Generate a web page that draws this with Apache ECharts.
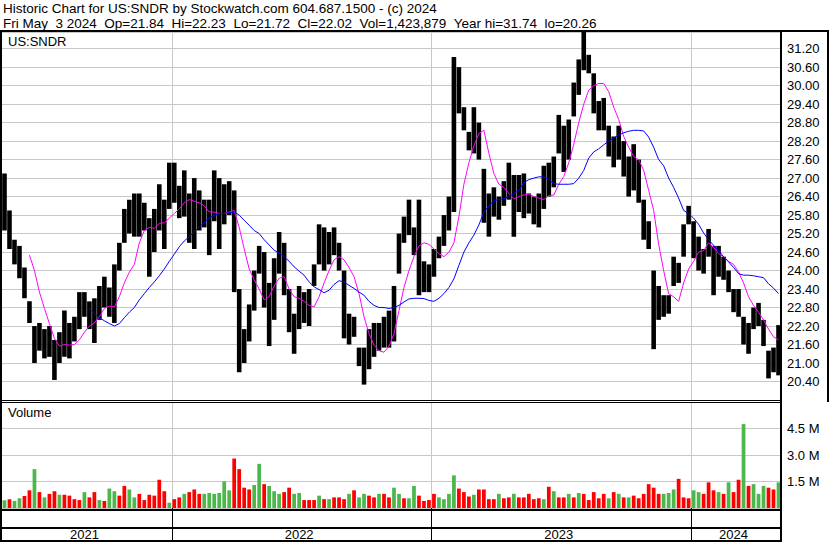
<!DOCTYPE html>
<html><head><meta charset="utf-8">
<script src="https://cdn.jsdelivr.net/npm/echarts@6/dist/echarts.min.js"></script>
<style>html,body{margin:0;padding:0;background:#fff}#c{width:830px;height:543px}</style>
</head><body><div id="c"></div>
<script>
// Weekly buckets (week starting Monday)
const weekDates = [
'2021-05-10','2021-05-17','2021-05-24','2021-05-31','2021-06-07','2021-06-14','2021-06-21','2021-06-28','2021-07-05','2021-07-12',
'2021-07-19','2021-07-26','2021-08-02','2021-08-09','2021-08-16','2021-08-23','2021-08-30','2021-09-06','2021-09-13','2021-09-20',
'2021-09-27','2021-10-04','2021-10-11','2021-10-18','2021-10-25','2021-11-01','2021-11-08','2021-11-15','2021-11-22','2021-11-29',
'2021-12-06','2021-12-13','2021-12-20','2021-12-27',
'2022-01-03','2022-01-10','2022-01-17','2022-01-24','2022-01-31','2022-02-07','2022-02-14','2022-02-21','2022-02-28','2022-03-07',
'2022-03-14','2022-03-21','2022-03-28','2022-04-04','2022-04-11','2022-04-18','2022-04-25','2022-05-02','2022-05-09','2022-05-16',
'2022-05-23','2022-05-30','2022-06-06','2022-06-13','2022-06-20','2022-06-27','2022-07-04','2022-07-11','2022-07-18','2022-07-25',
'2022-08-01','2022-08-08','2022-08-15','2022-08-22','2022-08-29','2022-09-05','2022-09-12','2022-09-19','2022-09-26','2022-10-03',
'2022-10-10','2022-10-17','2022-10-24','2022-10-31','2022-11-07','2022-11-14','2022-11-21','2022-11-28','2022-12-05','2022-12-12',
'2022-12-19','2022-12-26',
'2023-01-02','2023-01-09','2023-01-16','2023-01-23','2023-01-30','2023-02-06','2023-02-13','2023-02-20','2023-02-27','2023-03-06',
'2023-03-13','2023-03-20','2023-03-27','2023-04-03','2023-04-10','2023-04-17','2023-04-24','2023-05-01','2023-05-08','2023-05-15',
'2023-05-22','2023-05-29','2023-06-05','2023-06-12','2023-06-19','2023-06-26','2023-07-03','2023-07-10','2023-07-17','2023-07-24',
'2023-07-31','2023-08-07','2023-08-14','2023-08-21','2023-08-28','2023-09-04','2023-09-11','2023-09-18','2023-09-25','2023-10-02',
'2023-10-09','2023-10-16','2023-10-23','2023-10-30','2023-11-06','2023-11-13','2023-11-20','2023-11-27','2023-12-04','2023-12-11',
'2023-12-18','2023-12-25',
'2024-01-01','2024-01-08','2024-01-15','2024-01-22','2024-01-29','2024-02-05','2024-02-12','2024-02-19','2024-02-26','2024-03-04',
'2024-03-11','2024-03-18','2024-03-25','2024-04-01','2024-04-08','2024-04-15','2024-04-22','2024-04-29'];

const weekHigh = [
27.15,25.95,25.0,24.8,24.1,23.0,22.2,22.3,22.1,22.2,
21.75,22.0,22.7,22.3,22.5,23.3,23.3,23.0,23.1,23.5,
23.8,23.45,24.2,24.9,26.0,26.3,26.5,26.5,26.2,25.7,
26.0,26.8,26.3,27.5,27.5,26.75,27.25,26.5,27.0,26.6,
26.3,26.3,27.25,27.0,26.8,26.9,26.6,23.4,22.1,22.9,
24.0,24.8,24.6,23.6,24.4,25.25,24.9,23.4,22.6,23.5,
23.3,23.4,24.2,25.5,25.4,25.25,25.4,24.9,24.0,22.6,
22.5,21.5,21.5,22.1,22.3,22.3,22.5,22.7,23.5,25.2,
25.75,26.3,25.4,26.3,24.3,24.2,24.7,25.1,25.8,26.4,
30.93,30.6,29.3,28.5,29.3,28.8,27.3,26.5,26.7,26.4,
26.9,27.5,27.1,27.1,27.15,26.5,26.4,26.5,27.4,27.5,
27.7,29.05,28.7,28.9,30.1,30.85,31.74,31.0,30.4,29.5,
29.6,28.7,28.35,28.7,28.2,27.7,28.1,27.6,26.3,25.6,
24.0,23.5,23.2,23.2,24.45,24.25,25.5,26.1,25.6,25.1,
24.7,25.35,24.8,24.8,24.45,24.0,23.4,23.4,22.5,22.3,
22.8,22.95,22.4,21.4,21.5,22.23];

const weekLow = [
25.3,24.7,24.2,23.75,23.1,22.3,21.0,21.4,21.15,21.2,
20.45,21.0,21.2,21.15,21.7,22.1,22.5,22.1,21.65,22.4,
22.8,22.5,22.3,24.0,24.9,25.2,25.1,25.1,25.3,23.8,
24.6,25.3,24.7,26.0,26.2,25.7,25.75,24.9,24.7,25.3,
25.4,24.5,25.6,24.7,25.5,25.8,23.3,20.7,21.0,21.7,
22.7,23.9,22.8,21.55,22.4,23.9,23.2,22.0,21.3,22.1,
22.3,22.2,23.5,24.2,24.0,24.2,24.5,24.0,21.8,21.6,
21.85,20.9,20.3,20.8,21.2,21.4,21.5,21.5,21.7,23.9,
24.9,25.15,24.5,23.2,23.3,23.3,23.8,24.4,24.8,25.3,
25.9,29.1,28.55,27.9,27.8,27.6,25.55,25.1,25.75,25.65,
26.1,26.3,25.1,25.9,25.7,25.85,25.5,25.4,26.0,26.4,
26.7,27.8,27.2,27.6,29.0,29.7,30.5,30.4,29.1,28.55,
28.55,27.7,27.35,27.6,27.05,26.4,26.6,26.2,25.0,24.7,
21.45,22.4,22.5,22.6,23.5,23.6,24.45,25.5,24.4,24.0,
23.9,24.45,23.2,23.8,23.7,23.3,22.65,22.5,21.6,21.3,
22.1,22.2,21.55,20.5,20.7,20.6];

const maShort = [
null,null,null,null,null,24.5,24.0,23.3,22.77,22.28,
21.8,21.55,21.6,21.58,21.6,21.75,22.0,22.2,22.3,22.5,
22.77,22.85,22.82,23.15,23.6,23.95,24.2,24.9,25.3,25.4,
25.37,25.53,25.55,25.7,25.85,26.0,26.2,26.3,26.25,26.2,
26.1,25.9,25.9,25.85,25.85,25.9,25.95,25.4,24.7,24.05,
23.7,23.4,23.05,23.15,23.5,23.75,23.8,23.4,23.15,23.1,
23.0,22.87,22.82,23.15,23.6,24.0,24.35,24.45,24.35,24.1,
23.8,23.25,22.5,21.95,21.58,21.4,21.35,21.55,21.95,22.7,
23.45,24.0,24.45,24.8,24.9,24.85,24.7,24.55,24.45,24.6,
24.9,25.75,26.8,27.5,28.05,28.45,28.55,27.8,27.15,26.8,
26.7,26.5,26.33,26.4,26.45,26.48,26.4,26.35,26.3,26.43,
26.45,26.8,27.05,27.5,28.1,28.8,29.4,29.85,30.0,30.07,
30.07,29.8,29.3,28.9,28.35,28.0,27.7,27.6,27.25,26.6,
25.95,24.85,24.0,23.25,23.15,23.0,23.6,24.05,24.3,24.6,
24.65,24.9,24.75,24.55,24.45,24.3,24.2,23.95,23.6,23.15,
22.87,22.65,22.4,22.1,21.85,21.75];

const maLong = [
null,null,null,null,null,null,null,null,null,null,
null,null,null,null,null,null,null,22.77,22.6,22.47,
22.37,22.28,22.2,22.28,22.47,22.65,22.8,23.05,23.25,23.45,
23.63,23.83,24.05,24.3,24.53,24.77,24.96,25.1,25.25,25.42,
25.55,25.7,25.8,25.85,25.85,25.88,25.9,25.8,25.63,25.47,
25.3,25.2,25.0,24.83,24.66,24.57,24.45,24.3,24.12,23.98,
23.85,23.63,23.47,23.38,23.28,23.36,23.55,23.67,23.63,23.52,
23.42,23.3,23.2,23.0,22.87,22.8,22.8,22.77,22.8,22.87,
22.98,23.08,23.1,23.1,23.09,23.03,23.0,23.1,23.25,23.45,
23.73,24.17,24.6,24.9,25.15,25.48,25.9,26.1,26.27,26.3,
26.33,26.4,26.5,26.6,26.85,26.95,27.0,27.04,27.04,26.95,
26.82,26.8,26.8,26.8,26.82,27.0,27.25,27.65,27.85,27.95,
28.08,28.2,28.3,28.4,28.47,28.52,28.55,28.55,28.53,28.33,
28.0,27.6,27.4,27.0,26.7,26.35,25.95,25.85,25.7,25.5,
25.22,25.0,24.82,24.65,24.45,24.28,24.1,23.9,23.85,23.85,
23.83,23.8,23.77,23.57,23.43,23.25];

// volume in millions of shares (typical daily level in the week)
const volumeM = [
0.44,0.5,0.4,0.55,0.68,1.0,2.2,0.9,0.6,0.8,
0.95,0.75,0.75,0.7,0.5,0.45,0.9,0.6,0.9,0.45,
0.4,1.1,0.95,0.7,1.25,1.05,0.6,0.8,0.45,0.75,
0.7,1.6,0.95,0.3,0.5,0.6,0.8,0.9,1.05,0.8,
0.8,0.85,0.8,0.85,1.5,1.0,2.8,2.2,1.15,1.05,
1.3,2.5,1.35,1.25,0.95,0.8,0.9,1.15,0.8,0.85,
0.45,0.45,0.45,0.7,0.5,0.5,0.6,0.6,0.5,0.8,
1.0,0.6,0.8,0.7,0.6,0.8,0.8,0.6,1.15,0.8,
0.55,0.55,1.25,0.7,0.4,0.45,0.8,0.6,0.5,0.8,
1.85,1.1,0.9,0.65,0.75,1.05,1.05,0.5,0.5,0.8,
0.55,0.6,0.8,0.6,0.6,0.8,0.5,0.55,0.5,1.2,
0.95,0.6,0.6,0.8,0.6,0.85,0.8,0.45,0.9,0.55,
0.8,0.55,0.9,0.8,0.6,0.6,0.7,0.55,0.8,1.35,
1.15,0.8,0.8,0.85,1.05,1.65,0.6,0.55,1.0,0.9,
0.8,1.45,1.0,0.9,0.8,1.45,0.9,1.6,4.75,1.25,
1.35,0.8,1.25,1.15,1.05,1.45];

// 1 = up (green), 0 = down (red)
const volumeUp = [
1,0,1,1,0,0,1,0,1,0,
0,1,0,0,0,0,1,0,0,1,
0,1,1,0,0,1,1,0,0,0,
0,0,0,1,0,0,1,0,0,0,
1,1,1,1,1,1,0,0,0,0,
1,1,0,1,1,1,0,0,1,1,
0,0,0,1,0,1,0,0,0,1,
0,1,1,0,0,1,0,0,1,1,
0,1,1,0,0,0,0,1,1,1,
1,0,0,0,1,0,0,0,0,1,
0,0,1,0,0,0,0,0,1,0,
1,0,0,1,0,1,0,0,0,0,
0,1,0,1,0,1,0,0,0,0,
0,0,1,1,1,0,0,0,1,1,
0,0,0,1,0,1,0,0,1,0,
1,1,1,0,0,1];

const titleLine1 = 'Historic Chart for US:SNDR by Stockwatch.com 604.687.1500 - (c) 2024';
const titleLine2 = 'Fri May  3 2024  Op=21.84  Hi=22.23  Lo=21.72  Cl=22.02  Vol=1,423,879  Year hi=31.74  lo=20.26';
const symbolLabel = 'US:SNDR';
const volumeLabel = 'Volume';

const FONT = "'Liberation Sans', Arial, sans-serif";
const GRIDC = '#c8c8c8';

const yearOf = (i) => weekDates[i].slice(0, 4);
const isYearStart = (i) => i > 0 && yearOf(i) !== yearOf(i - 1);
// label placed at middle week of each year's range
const yearMid = new Set();
(function () {
  let s = 0;
  for (let i = 1; i <= weekDates.length; i++) {
    if (i === weekDates.length || yearOf(i) !== yearOf(s)) {
      yearMid.add(Math.floor((s + i - 1) / 2));
      s = i;
    }
  }
})();

const priceData = weekDates.map((d, i) => [i, weekHigh[i], weekLow[i]]);
const volData = volumeM.map((v, i) => ({
  value: v * 1e6,
  itemStyle: { color: volumeUp[i] ? '#4cb84c' : '#ff0000' }
}));

const chart = echarts.init(document.getElementById('c'), null, { renderer: 'svg' });
const txt = { fontFamily: FONT, fontSize: 13, color: '#000', fontWeight: 'normal' };
const ttl = { fontFamily: FONT, fontSize: 13.5, color: '#000', fontWeight: 'normal' };

const blk = (x, y, w, h) => ({ type: 'rect', shape: { x, y, width: w, height: h }, style: { fill: '#000' }, z: 100, silent: true });

chart.setOption({
  animation: false,
  backgroundColor: '#fff',
  title: [
    { text: titleLine1, left: 3, top: 1, padding: 0, textStyle: ttl },
    { text: titleLine2.replace(/ /g, '\u00a0'), left: 3, top: 16, padding: 0, textStyle: ttl },
    { text: symbolLabel, left: 8, top: 35, padding: 0, textStyle: txt },
    { text: volumeLabel, left: 8, top: 406, padding: 0, textStyle: txt }
  ],
  grid: [
    { left: 2, top: 32, width: 779, height: 368, outerBoundsMode: 'none', containLabel: false },
    { left: 2, top: 402, width: 779, height: 106, outerBoundsMode: 'none', containLabel: false }
  ],
  xAxis: [
    {
      type: 'category', gridIndex: 0, data: weekDates, boundaryGap: true,
      axisLine: { show: false }, axisTick: { show: false }, axisLabel: { show: false },
      splitLine: { show: true, interval: (i) => isYearStart(i), lineStyle: { color: GRIDC, width: 1 } }
    },
    {
      type: 'category', gridIndex: 1, data: weekDates, boundaryGap: true,
      axisLine: { show: false },
      axisTick: { show: true, inside: false, length: 33, interval: (i) => isYearStart(i), lineStyle: { color: '#000', width: 1 } },
      axisLabel: { show: true, interval: (i) => yearMid.has(i), formatter: (v) => v.slice(0, 4), margin: 20, ...txt },
      splitLine: { show: true, interval: (i) => isYearStart(i), lineStyle: { color: GRIDC, width: 1 } }
    }
  ],
  yAxis: [
    {
      type: 'value', gridIndex: 0, position: 'right', min: 19.8, max: 31.74, interval: 0.6,
      axisLine: { show: false }, axisTick: { show: false },
      axisLabel: { show: true, margin: 6, showMinLabel: false, showMaxLabel: false, formatter: (v) => v.toFixed(2), ...txt },
      splitLine: { show: true, lineStyle: { color: GRIDC, width: 1 } }
    },
    {
      type: 'value', gridIndex: 1, position: 'right', min: 0, max: 6e6, interval: 1.5e6,
      axisLine: { show: false }, axisTick: { show: false },
      axisLabel: { show: true, margin: 6, showMinLabel: false, showMaxLabel: false, formatter: (v) => (v / 1e6).toFixed(1) + ' M', ...txt },
      splitLine: { show: true, lineStyle: { color: GRIDC, width: 1 } }
    }
  ],
  series: [
    {
      type: 'custom', xAxisIndex: 0, yAxisIndex: 0, data: priceData, z: 3,
      renderItem: function (params, api) {
        const i = api.value(0);
        const top = api.coord([i, api.value(1)]);
        const bot = api.coord([i, api.value(2)]);
        const w = api.size([1, 0])[0] * 0.92;
        return {
          type: 'rect',
          shape: { x: top[0] - w / 2, y: top[1], width: w, height: Math.max(1, bot[1] - top[1]) },
          style: { fill: '#000' }
        };
      }
    },
    {
      type: 'line', xAxisIndex: 0, yAxisIndex: 0, data: maShort, showSymbol: false, z: 4,
      lineStyle: { color: '#ff00ff', width: 1 }, itemStyle: { color: '#ff00ff' }, connectNulls: false
    },
    {
      type: 'line', xAxisIndex: 0, yAxisIndex: 0, data: maLong, showSymbol: false, z: 4,
      lineStyle: { color: '#0000ff', width: 1 }, itemStyle: { color: '#0000ff' }, connectNulls: false
    },
    {
      type: 'bar', xAxisIndex: 1, yAxisIndex: 1, data: volData, barCategoryGap: '25%'
    }
  ],
  graphic: [
    blk(0, 30, 829, 2),
    blk(0, 30, 2, 512),
    blk(780, 30, 2, 512),
    blk(827, 30, 2, 372),
    blk(0, 400, 782, 1),
    blk(0, 402, 782, 1),
    blk(0, 509, 782, 2),
    blk(0, 527, 782, 2),
    blk(0, 540, 782, 2)
  ]
});
</script></body></html>
